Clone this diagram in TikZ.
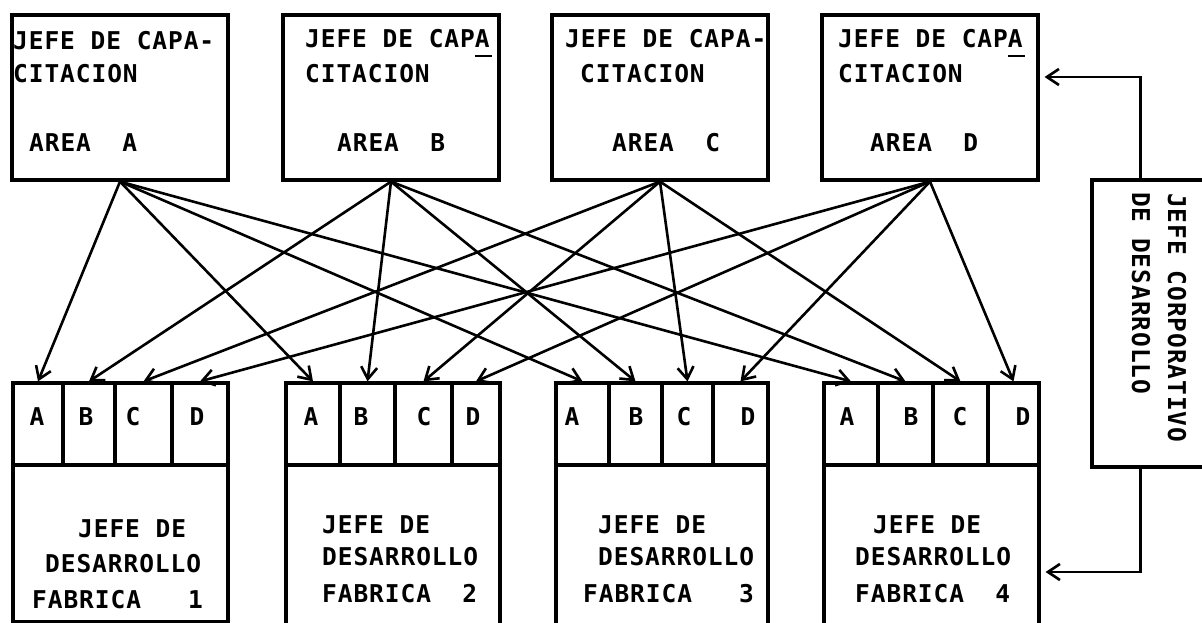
\documentclass[tikz,border=0pt]{standalone}
\usepackage{fontspec}
\newfontfamily\tw[LetterSpace=3.8]{DejaVu Sans Mono}
\usetikzlibrary{arrows.meta,calc}
\newcommand\ulA{\rlap{\rule[-9pt]{17pt}{2.4pt}}A}
\begin{document}
\begin{tikzpicture}[x=1pt,y=-1pt,
  every node/.style={inner sep=0pt},
  boxline/.style={draw,line width=3.2pt},
  topbox/.style={boxline,minimum width=216pt,minimum height=165pt},
  cell/.style={boxline,minimum height=82pt},
  txt/.style={anchor=base west,font=\tw\bfseries\fontsize{24.5pt}{28pt}\selectfont},
  let/.style={anchor=base,font=\tw\bfseries\fontsize{24.5pt}{28pt}\selectfont},
  rot/.style={txt,rotate=-90},
  arr/.style={line width=2.6pt,-{Straight Barb[length=12pt,width=16pt,line width=2.6pt]}}]
\useasboundingbox (0,0) rectangle (1202,623);
\clip (0,0) rectangle (1202,623);

% top boxes
\node[topbox] (tA) at (120,97.5) {};
\node[topbox] (tB) at (391,97.5) {};
\node[topbox] (tC) at (660,97.5) {};
\node[topbox] (tD) at (930,97.5) {};

\node[txt] (tA1) at (13,50) {JEFE DE CAPA-};
\node[txt] (tA2) at (13,83) {CITACION};
\node[txt] (tA3) at (29,152) {AREA\ \ A};
\node[txt] (tB1) at (305,48) {JEFE DE CAP\ulA};
\node[txt] (tB2) at (305,83) {CITACION};
\node[txt] (tB3) at (337,152) {AREA\ \ B};
\node[txt] (tC1) at (565,48) {JEFE DE CAPA-};
\node[txt] (tC2) at (580,83) {CITACION};
\node[txt] (tC3) at (612,152) {AREA\ \ C};
\node[txt] (tD1) at (838,48) {JEFE DE CAP\ulA};
\node[txt] (tD2) at (838,83) {CITACION};
\node[txt] (tD3) at (870,152) {AREA\ \ D};

% bottom boxes
\node[boxline,minimum width=215pt,minimum height=239pt] (f1) at (120.5,502) {};
\node[boxline,minimum width=214pt,minimum height=258pt] (f2) at (393,512) {};
\node[boxline,minimum width=212pt,minimum height=258pt] (f3) at (662,512) {};
\node[boxline,minimum width=215pt,minimum height=258pt] (f4) at (931.5,512) {};

% cells
\node[cell,minimum width=50pt] (c1A) at (38,424) {};
\node[cell,minimum width=52pt] (c1B) at (89,424) {};
\node[cell,minimum width=57pt] (c1C) at (143.5,424) {};
\node[cell,minimum width=56pt] (c1D) at (200,424) {};
\node[cell,minimum width=54pt] (c2A) at (313,424) {};
\node[cell,minimum width=55pt] (c2B) at (367.5,424) {};
\node[cell,minimum width=57pt] (c2C) at (423.5,424) {};
\node[cell,minimum width=48pt] (c2D) at (476,424) {};
\node[cell,minimum width=53pt] (c3A) at (582.5,424) {};
\node[cell,minimum width=53pt] (c3B) at (635.5,424) {};
\node[cell,minimum width=51pt] (c3C) at (687.5,424) {};
\node[cell,minimum width=55pt] (c3D) at (740.5,424) {};
\node[cell,minimum width=54pt] (c4A) at (851,424) {};
\node[cell,minimum width=55pt] (c4B) at (905.5,424) {};
\node[cell,minimum width=55pt] (c4C) at (960.5,424) {};
\node[cell,minimum width=51pt] (c4D) at (1013.5,424) {};

% cell letters
\node[let] (l1A) at (37,425) {A};
\node[let] (l1B) at (86,425) {B};
\node[let] (l1C) at (133,425) {C};
\node[let] (l1D) at (197,425) {D};
\node[let] (l2A) at (311,425) {A};
\node[let] (l2B) at (361,425) {B};
\node[let] (l2C) at (424,425) {C};
\node[let] (l2D) at (473,425) {D};
\node[let] (l3A) at (572,425) {A};
\node[let] (l3B) at (636,425) {B};
\node[let] (l3C) at (684,425) {C};
\node[let] (l3D) at (748,425) {D};
\node[let] (l4A) at (847,425) {A};
\node[let] (l4B) at (911,425) {B};
\node[let] (l4C) at (960,425) {C};
\node[let] (l4D) at (1023,425) {D};

% bottom texts
\node[txt] (f1a) at (78,537) {JEFE DE};
\node[txt] (f1b) at (45,572) {DESARROLLO};
\node[txt] (f1c) at (32,608) {FABRICA\ \ \ 1};
\node[txt] (f2a) at (322,533) {JEFE DE};
\node[txt] (f2b) at (322,565) {DESARROLLO};
\node[txt] (f2c) at (322,602) {FABRICA\ \ 2};
\node[txt] (f3a) at (598,533) {JEFE DE};
\node[txt] (f3b) at (598,565) {DESARROLLO};
\node[txt] (f3c) at (583,602) {FABRICA\ \ \ 3};
\node[txt] (f4a) at (873,533) {JEFE DE};
\node[txt] (f4b) at (855,565) {DESARROLLO};
\node[txt] (f4c) at (855,602) {FABRICA\ \ 4};

% corporate box
\node[boxline,minimum width=123pt,minimum height=287pt] (corp) at (1153.5,323.5) {};
\node[rot] (corp1) at (1168,193) {JEFE CORPORATIVO};
\node[rot] (corp2) at (1132,192) {DE DESARROLLO};

% arrows
\foreach \s in {A,B,C,D}{
  \foreach \k in {1,2,3,4}{
    \draw[arr] (t\s.south) -- (c\k\s.north);
  }
}
\draw[arr] ($(corp.north west)+(50,0)$) |- ($(tD.east)+(5,-20.5)$);
\draw[arr] ($(corp.south west)+(50,0)$) |- ($(f4.east)+(5,60)$);
\end{tikzpicture}
\end{document}
